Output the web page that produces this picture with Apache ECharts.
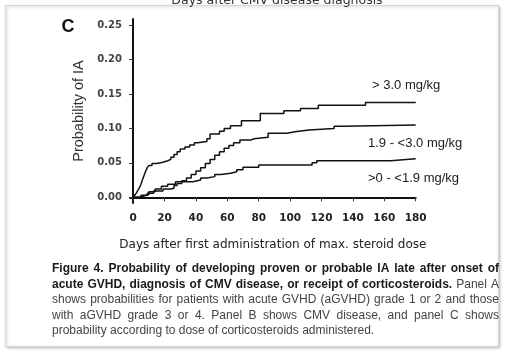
<!DOCTYPE html>
<html>
<head>
<meta charset="utf-8">
<script src="https://cdn.jsdelivr.net/npm/echarts@6/dist/echarts.min.js"></script>
<style>
html,body{margin:0;padding:0;background:#fff;}
#chart{width:505px;height:354px;}
</style>
</head>
<body>
<div id="chart"></div>
<script>
// ---- data ----
var xTicks = [0, 20, 40, 60, 80, 100, 120, 140, 160, 180];
var yTicks = [0, 0.05, 0.10, 0.15, 0.20, 0.25];

// > 3.0 mg/kg  [day, probability]
var highDose = [
  [0, 0], [1, 0.003], [2, 0.006], [3, 0.01], [4, 0.014], [5, 0.019], [6, 0.026],
  [7, 0.032], [8, 0.038], [9, 0.043], [10, 0.046], [12, 0.049], [15, 0.051],
  [19, 0.053], [22, 0.055], [24, 0.058], [26, 0.062], [28, 0.066], [30, 0.07],
  [33, 0.073], [36, 0.076], [39, 0.079], [41, 0.081], [47, 0.085], [49, 0.092],
  [55, 0.096], [58, 0.1], [62, 0.104], [69, 0.111], [81, 0.1217], [96, 0.1255],
  [106.6, 0.129], [118, 0.1337], [148, 0.1377], [180, 0.1377]
];
// 1.9 - <3.0 mg/kg
var midDose = [
  [0, 0], [5, 0.003], [9, 0.006], [13, 0.009], [19, 0.012], [24, 0.013],
  [26, 0.017], [28, 0.02], [31, 0.024], [34, 0.028], [37, 0.033], [40, 0.038],
  [43, 0.043], [46, 0.049], [49, 0.055], [52, 0.061], [55, 0.066], [58, 0.071],
  [61, 0.075], [64, 0.079], [68, 0.083], [75, 0.085], [77, 0.087], [86, 0.093],
  [98, 0.095], [103, 0.0975], [112, 0.1], [128, 0.103], [134, 0.1048],
  [180, 0.1055]
];
// >0 - <1.9 mg/kg
var lowDose = [
  [0, 0], [4, 0.002], [7, 0.004], [10, 0.008], [14, 0.012], [18, 0.016],
  [22, 0.019], [27, 0.0226], [38, 0.025], [43, 0.028], [47, 0.03], [52, 0.033],
  [56, 0.035], [62, 0.037], [66, 0.04], [70, 0.0435], [80, 0.047],
  [114, 0.05], [117, 0.053], [164, 0.0558], [180, 0.0558]
];

var seriesNames = ['> 3.0 mg/kg', '1.9 - <3.0 mg/kg', '>0 - <1.9 mg/kg'];
var xTitle = 'Days after first administration of max. steroid dose';
var yTitle = 'Probability of IA';
var topCutTitle = 'Days after CMV disease diagnosis';
var panelLetter = 'C';
// caption lines: [boldPart, normalPart, justified]
var captionLines = [
  ['Figure 4. Probability of developing proven or probable IA late after onset of', '', true],
  ['acute GVHD, diagnosis of CMV disease, or receipt of corticosteroids.', 'Panel A', true],
  ['', 'shows probabilities for patients with acute GVHD (aGVHD) grade 1 or 2 and those', true],
  ['', 'with aGVHD grade 3 or 4. Panel B shows CMV disease, and panel C shows', true],
  ['', 'probability according to dose of corticosteroids administered.', false]
];

var chart = echarts.init(document.getElementById('chart'), null, {renderer: 'canvas'});

function mkSeries(name, data) {
  return {
    name: name, type: 'line', step: 'end', data: data, showSymbol: false,
    lineStyle: {color: '#111', width: 1.5}, silent: true, animation: false
  };
}

var capFont = '"Liberation Sans", Arial, sans-serif';
var capSize = 12;
var measureCtx = document.createElement('canvas').getContext('2d');
function measure(word, bold) {
  measureCtx.font = (bold ? 'bold ' : '') + capSize + 'px ' + capFont;
  return measureCtx.measureText(word).width;
}

function captionGraphics() {
  var out = [];
  var x0 = 52, x1 = 499, y0 = 269, lh = 15.5;
  captionLines.forEach(function (ln, i) {
    var words = [];
    if (ln[0]) ln[0].split(' ').forEach(function (w) { words.push({t: w, b: true}); });
    if (ln[1]) ln[1].split(' ').forEach(function (w) { words.push({t: w, b: false}); });
    var y = y0 + i * lh;
    var widths = words.map(function (w) { return measure(w.t, w.b); });
    var total = widths.reduce(function (a, b) { return a + b; }, 0);
    var gap = ln[2] ? (x1 - x0 - total) / (words.length - 1) : measure(' ', false);
    var x = x0;
    words.forEach(function (w, k) {
      out.push({type: 'text', silent: true, x: x, y: y,
        style: {text: w.t, fontFamily: capFont, fontSize: capSize, fontWeight: w.b ? 'bold' : 'normal',
          fill: w.b ? '#1a1a1a' : '#444', align: 'left', verticalAlign: 'middle'}});
      x += widths[k] + gap;
    });
  });
  return out;
}

var option = {
  backgroundColor: '#fff',
  animation: false,
  grid: {left: 130, right: 89.3, top: 19, bottom: 151, containLabel: false},
  xAxis: {
    type: 'value', min: -2, max: 180,
    axisLine: {show: true, lineStyle: {color: '#111', width: 2}},
    axisTick: {show: true, length: 4, lineStyle: {color: '#333', width: 1}, customValues: xTicks},
    axisLabel: {customValues: xTicks, margin: 10, fontFamily: 'DejaVu Sans', fontSize: 10.5, color: '#222', fontWeight: 'bold'},
    splitLine: {show: false},
    name: xTitle, nameLocation: 'middle', nameGap: 36,
    nameTextStyle: {fontFamily: 'DejaVu Sans', fontSize: 12, color: '#222'}
  },
  yAxis: {
    type: 'value', min: -0.00826, max: 0.2587,
    axisLine: {show: true, lineStyle: {color: '#111', width: 2}},
    axisTick: {show: true, length: 4, lineStyle: {color: '#333', width: 1}, customValues: yTicks},
    axisLabel: {customValues: yTicks, margin: 8, fontFamily: 'DejaVu Sans', fontSize: 10, color: '#444', fontWeight: 'bold',
      formatter: function (v) { return v.toFixed(2); }},
    splitLine: {show: false},
    name: yTitle, nameLocation: 'middle', nameGap: 42, nameRotate: 90,
    nameTextStyle: {fontFamily: capFont, fontSize: 14.5, color: '#333'}
  },
  series: [
    mkSeries(seriesNames[0], highDose),
    mkSeries(seriesNames[1], midDose),
    mkSeries(seriesNames[2], lowDose)
  ],
  graphic: [
    {type: 'rect', z: -10, silent: true,
      shape: {x: 5.5, y: 5.5, width: 493, height: 341},
      style: {fill: '#fff', stroke: '#d8d8d8', lineWidth: 1, shadowBlur: 3, shadowColor: 'rgba(0,0,0,0.25)', shadowOffsetX: 1, shadowOffsetY: 1}},
    {type: 'text', silent: true, x: 277, y: 0.5,
      style: {text: topCutTitle, fontFamily: 'DejaVu Sans', fontSize: 12.5, fill: '#333', align: 'center', verticalAlign: 'middle'}},
    {type: 'text', silent: true, x: 68, y: 27,
      style: {text: panelLetter, fontFamily: capFont, fontSize: 18, fontWeight: 'bold', fill: '#111', align: 'center', verticalAlign: 'middle'}},
    {type: 'text', silent: true, x: 372, y: 85,
      style: {text: seriesNames[0], fontFamily: capFont, fontSize: 13, fill: '#222', align: 'left', verticalAlign: 'middle'}},
    {type: 'text', silent: true, x: 368, y: 143.5,
      style: {text: seriesNames[1], fontFamily: capFont, fontSize: 13, fill: '#222', align: 'left', verticalAlign: 'middle'}},
    {type: 'text', silent: true, x: 368, y: 178,
      style: {text: seriesNames[2], fontFamily: capFont, fontSize: 13, fill: '#222', align: 'left', verticalAlign: 'middle'}}
  ].concat(captionGraphics())
};
chart.setOption(option);
</script>
</body>
</html>
